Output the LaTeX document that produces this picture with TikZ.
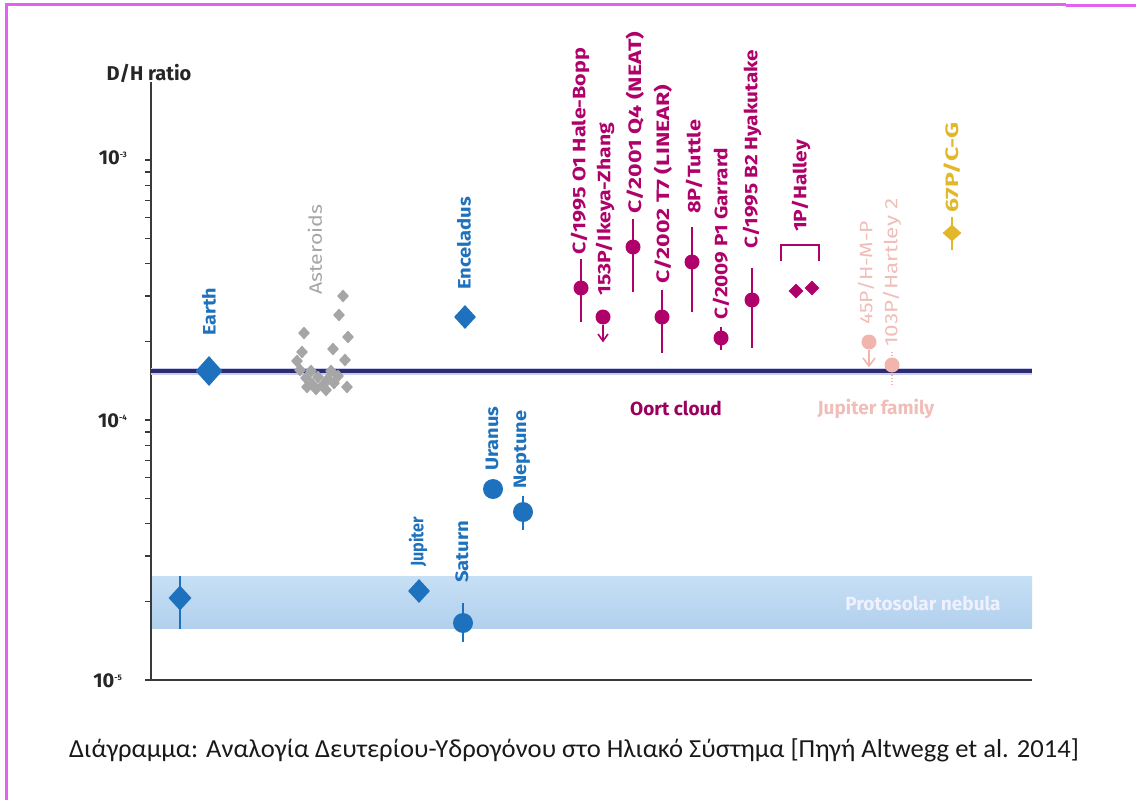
\documentclass[tikz,border=0pt]{standalone}
\usepackage{graphicx}
\usepackage{fontspec}
\setmainfont{Fira Sans}
\newfontfamily\capfont{Carlito}
\usetikzlibrary{shapes.geometric}
\newcommand\fitw[2]{\resizebox{#1pt}{\height}{#2}}
\definecolor{blueC}{HTML}{1E72BD}
\definecolor{magC}{HTML}{B0006A}
\definecolor{pinkC}{HTML}{F2B5AE}
\definecolor{pinkT}{HTML}{F0BDB8}
\definecolor{grayC}{HTML}{A6A6A6}
\definecolor{yelC}{HTML}{E2B82A}
\definecolor{navyC}{HTML}{2D2B6B}
\definecolor{glowC}{HTML}{C8CCF0}
\definecolor{borderC}{HTML}{E463EE}
\definecolor{axisC}{HTML}{3A3A3A}
\definecolor{bandTop}{HTML}{C6DFF4}
\definecolor{bandBot}{HTML}{B2D0EE}
\tikzset{
  lbl/.style={rotate=90, anchor=west, inner sep=0pt, font=\fontsize{18}{18}\selectfont\bfseries},
  blbl/.style={lbl, text=blueC},
  mlbl/.style={lbl, text=magC},
  plbl/.style={lbl, text=pinkT, font=\fontsize{18}{18}\selectfont},
  glbl/.style={lbl, text=grayC, font=\fontsize{18}{18}\selectfont},
  ylbl/.style={lbl, text=yelC},
  bdia/.style 2 args={diamond, fill=blueC, inner sep=0pt, minimum width=#1, minimum height=#2},
  bdot/.style={circle, fill=blueC, inner sep=0pt, minimum size=20pt},
  mdot/.style={circle, fill=magC, inner sep=0pt, minimum size=15pt},
  mdia/.style={diamond, fill=magC, inner sep=0pt, minimum width=15pt, minimum height=15pt},
  pdot/.style={circle, fill=pinkC, inner sep=0pt, minimum size=15pt},
  adia/.style={diamond, fill=grayC, inner sep=0pt, minimum width=12pt, minimum height=13pt},
  bbar/.style={blueC, line width=1.6pt},
  mbar/.style={magC, line width=1.6pt},
  tick/.style={axisC, line width=1.2pt},
  declbl/.style={anchor=east, inner sep=0pt, text=black!85, font=\fontsize{20}{20}\selectfont\bfseries},
  grouplbl/.style={inner sep=0pt, font=\fontsize{19}{19}\selectfont\bfseries},
}
\begin{document}
\begin{tikzpicture}[x=1pt,y=-1pt]
\useasboundingbox (0,0) rectangle (1136,800);
% frame
\draw[borderC, line width=3pt] (6.5,800) -- (6.5,5) -- (1066,5);
\draw[borderC, line width=3pt] (1066,6) -- (1136,6);
% protosolar band
\shade[top color=bandTop, bottom color=bandBot] (151,576) rectangle (1032,628);
\node[grouplbl, text=white!94!blue] (proto) at (923,603) {Protosolar nebula};
% axes
\draw[axisC, line width=1.6pt] (151,82) -- (151,680) -- (1032,680);
\foreach \d in {0,1}{
  \foreach \k in {2,...,9}{
    \draw[tick] (145,{680-260*(\d+log10(\k))}) -- (151,{680-260*(\d+log10(\k))});
  }
}
\foreach \yy in {160,420,680}{ \draw[tick] (145,\yy) -- (151,\yy); }
\node[anchor=center, inner sep=0pt, text=black!85, font=\fontsize{20}{20}\selectfont\bfseries] (ylab) at (149,73) {D/H ratio};
\node[declbl] (d3) at (127,158) {10\raisebox{7pt}{\fontsize{8}{8}\selectfont -3}};
\node[declbl] (d4) at (127,421) {10\raisebox{7pt}{\fontsize{8}{8}\selectfont -4}};
\node[declbl] (d5) at (122,681) {10\raisebox{7pt}{\fontsize{8}{8}\selectfont -5}};
% Earth line
\draw[glowC, line width=7pt] (151,371) -- (1032,371);
\draw[navyC, line width=3.6pt] (151,371) -- (1032,371);
% asteroids
\foreach \ax/\ay [count=\i] in {343/296,339/315,304/333,348/337,333/349,302/352,345/360,297/361,347/387,
  300/370,306/378,312/384,318/377,323/385,328/379,334/383,338/376,316/389,326/390,311/371,331/371,307/387}{
  \node[adia] (ast\i) at (\ax,\ay) {};
}
\node[glbl] (astl) at (315,295) {\fitw{90}{Asteroids}};
% blue bodies
\node[bdia={27pt}{30pt}] (earth) at (209,371) {};
\node[blbl] (earthl) at (209,336) {\fitw{48}{Earth}};
\node[bdia={22pt}{24pt}] (encel) at (465,317) {};
\node[blbl] (encell) at (464,290) {\fitw{93}{Enceladus}};
\coordinate (pst) at (180,576); \coordinate (psb) at (180,629);
\draw[bbar] (pst) -- (psb);
\node[bdia={23pt}{25pt}] (psn) at (180,598) {};
\node[bdia={22pt}{24pt}] (jup) at (419,591) {};
\node[blbl] (jupl) at (418,567) {\fitw{50}{Jupiter}};
\coordinate (sat1) at (463,603); \coordinate (sat2) at (463,642);
\draw[bbar] (sat1) -- (sat2);
\node[bdot] (sat) at (463,623) {};
\node[blbl] (satl) at (462,583) {\fitw{62}{Saturn}};
\node[bdot] (ura) at (493,489) {};
\node[blbl] (ural) at (492,471) {\fitw{64}{Uranus}};
\coordinate (nep1) at (523,496); \coordinate (nep2) at (523,530);
\draw[bbar] (nep1) -- (nep2);
\node[bdot] (nep) at (523,512) {};
\node[blbl] (nepl) at (522,489) {\fitw{78}{Neptune}};
% Oort cloud comets
\coordinate (hb1) at (581,259); \coordinate (hb2) at (581,322);
\draw[mbar] (hb1) -- (hb2);
\node[mdot] (hb) at (581,288) {};
\node[mlbl] (hbl) at (580,255) {\fitw{207}{C/1995 O1 Hale-Bopp}};
\node[mdot] (iz) at (603,317) {};
\coordinate (iza) at (603,341);
\draw[mbar] (iz) -- (iza);
\draw[mbar] (598,334) -- (iza) -- (608,334);
\node[mlbl] (izl) at (605,296) {\fitw{173}{153P/Ikeya-Zhang}};
\coordinate (ne1) at (633,219); \coordinate (ne2) at (633,292);
\draw[mbar] (ne1) -- (ne2);
\node[mdot] (ne) at (633,247) {};
\node[mlbl] (nel) at (635,214) {\fitw{182}{C/2001 Q4 (NEAT)}};
\coordinate (li1) at (662,290); \coordinate (li2) at (662,353);
\draw[mbar] (li1) -- (li2);
\node[mdot] (li) at (662,317) {};
\node[mlbl] (lil) at (663,284) {\fitw{199}{C/2002 T7 (LINEAR)}};
\coordinate (tu1) at (692,227); \coordinate (tu2) at (692,312);
\draw[mbar] (tu1) -- (tu2);
\node[mdot] (tu) at (692,262) {};
\node[mlbl] (tul) at (694,214) {\fitw{94}{8P/Tuttle}};
\coordinate (ga1) at (721,327); \coordinate (ga2) at (721,350);
\draw[mbar] (ga1) -- (ga2);
\node[mdot] (ga) at (721,338) {};
\node[mlbl] (gal) at (721,320) {\fitw{172}{C/2009 P1 Garrard}};
\coordinate (hy1) at (752,268); \coordinate (hy2) at (752,348);
\draw[mbar] (hy1) -- (hy2);
\node[mdot] (hy) at (752,300) {};
\node[mlbl] (hyl) at (752,249) {\fitw{199}{C/1995 B2 Hyakutake}};
\node[mdia] (ha1) at (796,291) {};
\node[mdia] (ha2) at (812,288) {};
\coordinate (br1) at (781,261); \coordinate (br2) at (781,245);
\coordinate (br3) at (819,245); \coordinate (br4) at (819,261);
\draw[magC, line width=1.6pt] (br1) -- (br2) -- (br3) -- (br4);
\node[mlbl] (hal) at (801,232) {\fitw{92}{1P/Halley}};
\node[grouplbl, text=magC!88!black] (oort) at (676,408) {Oort cloud};
% Jupiter family comets
\node[pdot] (hmp) at (869,342) {};
\coordinate (hmpa) at (869,366);
\draw[pinkC, line width=1.6pt] (hmp) -- (hmpa);
\draw[pinkC, line width=1.6pt] (863,358) -- (hmpa) -- (875,358);
\node[plbl] (hmpl) at (866,325) {\fitw{104}{45P/H-M-P}};
\coordinate (ha1b) at (892,352); \coordinate (ha2b) at (892,385);
\draw[pinkC, line width=1.2pt, dotted] (ha1b) -- (ha2b);
\node[pdot] (hart) at (892,365) {};
\node[plbl] (hartl) at (892,347) {\fitw{148}{103P/Hartley 2}};
\node[grouplbl, text=pinkT] (jfam) at (876,409) {Jupiter family};
% 67P
\coordinate (cg1) at (952,217); \coordinate (cg2) at (952,250);
\draw[yelC, line width=1.6pt] (cg1) -- (cg2);
\node[diamond, fill=yelC, inner sep=0pt, minimum width=19pt, minimum height=17pt] (cg) at (952,233) {};
\node[ylbl] (cgl) at (952,213) {\fitw{90}{67P/C-G}};
% caption
\node[anchor=west, inner sep=0pt, font=\capfont\fontsize{26}{26}\selectfont, text=black!90] (cap) at (69,750)
  {\fitw{1010}{Διάγραμμα: Αναλογία Δευτερίου-Υδρογόνου στο Ηλιακό Σύστημα [Πηγή Altwegg et al. 2014]}};
\end{tikzpicture}
\end{document}
